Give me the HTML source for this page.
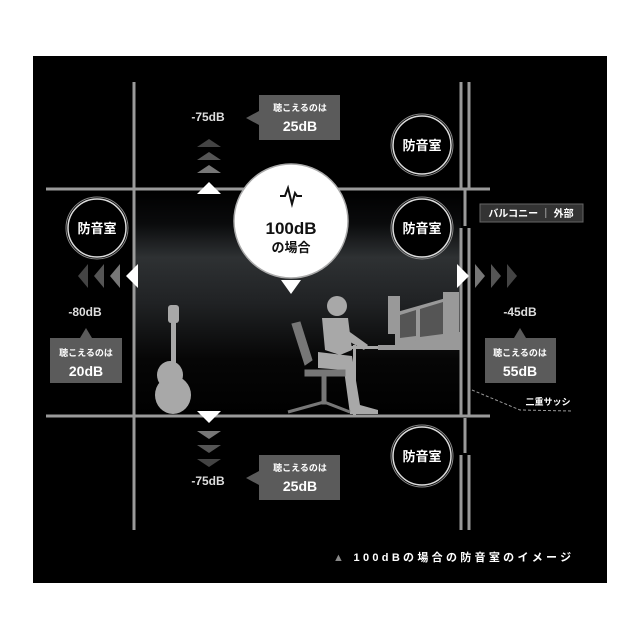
<!DOCTYPE html>
<html><head><meta charset="utf-8"><style>
html,body{margin:0;padding:0;background:#fff;width:640px;height:640px;overflow:hidden}
svg{display:block}
text{font-family:"Liberation Sans","Noto Sans CJK JP",sans-serif;font-weight:bold}
</style></head><body>
<svg width="640" height="640" viewBox="0 0 640 640" xmlns="http://www.w3.org/2000/svg">
<defs>
<linearGradient id="rg" x1="0" y1="0" x2="0" y2="1">
<stop offset="0" stop-color="#000"/>
<stop offset="0.15" stop-color="#0a0b0c"/>
<stop offset="0.3" stop-color="#2e3133"/>
<stop offset="0.5" stop-color="#202224"/>
<stop offset="0.75" stop-color="#060606"/>
<stop offset="1" stop-color="#000"/>
</linearGradient>
</defs>
<rect x="33" y="56" width="574" height="527" fill="#000"/>
<rect x="134" y="190" width="327" height="226" fill="url(#rg)"/>
<g stroke="#9a9a9a" stroke-width="3" fill="none">
<line x1="134" y1="82" x2="134" y2="530"/>
<line x1="46" y1="189" x2="490" y2="189"/>
<line x1="46" y1="416" x2="490" y2="416"/>
<line x1="461" y1="82" x2="461" y2="188"/>
<line x1="469" y1="82" x2="469" y2="188"/>
<line x1="465" y1="190" x2="465" y2="226"/>
<line x1="461" y1="228" x2="461" y2="415"/>
<line x1="469" y1="228" x2="469" y2="415"/>
<line x1="465" y1="418" x2="465" y2="453"/>
<line x1="461" y1="455" x2="461" y2="530"/>
<line x1="469" y1="455" x2="469" y2="530"/>
</g>
<path d="M472 390 L520 410 L572 411" stroke="#999" stroke-width="1" stroke-dasharray="3,2" fill="none"/>
<polygon points="197,147 221,147 209,139" fill="#444"/>
<polygon points="197,160 221,160 209,152" fill="#555"/>
<polygon points="197,173 221,173 209,165" fill="#777"/>
<polygon points="197,194 221,194 209,182" fill="#fff"/>
<polygon points="197,411 221,411 209,423" fill="#fff"/>
<polygon points="197,431 221,431 209,439" fill="#777"/>
<polygon points="197,445 221,445 209,453" fill="#555"/>
<polygon points="197,459 221,459 209,467" fill="#444"/>
<polygon points="138,264 138,288 126,276" fill="#fff"/>
<polygon points="120,264 120,288 110,276" fill="#777"/>
<polygon points="104,264 104,288 94,276" fill="#555"/>
<polygon points="88,264 88,288 78,276" fill="#444"/>
<polygon points="457,264 457,288 469,276" fill="#fff"/>
<polygon points="475,264 475,288 485,276" fill="#777"/>
<polygon points="491,264 491,288 501,276" fill="#555"/>
<polygon points="507,264 507,288 517,276" fill="#444"/>
<g fill="#000" stroke="#ddd" stroke-width="1.5">
<circle cx="97" cy="228" r="29"/><circle cx="422" cy="145" r="29"/><circle cx="422" cy="228" r="29"/><circle cx="422" cy="456" r="29"/>
</g>
<g fill="none" stroke="#888" stroke-width="1">
<circle cx="97" cy="228" r="31"/><circle cx="422" cy="145" r="31"/><circle cx="422" cy="228" r="31"/><circle cx="422" cy="456" r="31"/>
</g>
<g fill="#fff" font-size="13" text-anchor="middle">
<text x="97" y="233">防音室</text><text x="422" y="150">防音室</text><text x="422" y="233">防音室</text><text x="422" y="461">防音室</text>
</g>
<polygon points="281,280 301,280 291,294" fill="#fff"/>
<circle cx="291" cy="221" r="57" fill="#fff" stroke="#aaa" stroke-width="1.5"/>
<circle cx="291" cy="221" r="54" fill="#fff"/>
<path d="M280 196 L285 196 L288 188 L292 204 L295 193 L297 196 L302 196" stroke="#111" stroke-width="2" fill="none"/>
<text x="291" y="234" font-size="17" text-anchor="middle" fill="#111">100dB</text>
<text x="291" y="252" font-size="13" text-anchor="middle" fill="#111">の場合</text>
<g fill="#ddd" font-size="12" text-anchor="middle">
<text x="208" y="121">-75dB</text><text x="85" y="316">-80dB</text><text x="520" y="316">-45dB</text><text x="208" y="485">-75dB</text>
</g>
<g fill="#5b5b5b">
<rect x="259" y="95" width="81" height="45"/><polygon points="259,111 259,125 246,118"/>
<rect x="50" y="338" width="72" height="45"/><polygon points="80,338 92,338 86,328"/>
<rect x="485" y="338" width="71" height="45"/><polygon points="514,338 526,338 520,328"/>
<rect x="259" y="455" width="81" height="45"/><polygon points="259,471 259,485 246,478"/>
</g>
<g fill="#fff" text-anchor="middle">
<text x="300" y="111" font-size="9">聴こえるのは</text><text x="300" y="131" font-size="14">25dB</text>
<text x="86" y="356" font-size="9">聴こえるのは</text><text x="86" y="376" font-size="14">20dB</text>
<text x="520" y="356" font-size="9">聴こえるのは</text><text x="520" y="376" font-size="14">55dB</text>
<text x="300" y="471" font-size="9">聴こえるのは</text><text x="300" y="491" font-size="14">25dB</text>
</g>
<rect x="480" y="204" width="103" height="18" fill="#333" stroke="#666"/>
<text x="531" y="217" font-size="10" fill="#fff" text-anchor="middle">バルコニー ｜ 外部</text>
<text x="548" y="405" font-size="9" fill="#fff" text-anchor="middle">二重サッシ</text>
<g fill="#a8a8a8">
<rect x="171" y="308" width="5" height="60"/>
<rect x="168" y="305" width="11" height="18" rx="3"/>
<ellipse cx="173" cy="395" rx="18" ry="19"/>
<ellipse cx="170" cy="375" rx="13" ry="14"/>
</g>
<g fill="#a8a8a8">
<circle cx="337" cy="306" r="10"/>
<path d="M322 318 L348 318 L352 350 L340 355 L325 350 Z"/>
<path d="M340 325 L368 345 L364 350 L338 335 Z"/>
<path d="M318 352 L352 356 L360 405 L378 410 L378 414 L350 414 L344 370 L318 368 Z"/>
<rect x="353" y="345" width="3" height="70"/>
<rect x="350" y="346" width="50" height="3"/>
</g>
<g fill="#777" stroke="#777">
<path d="M292 324 L300 322 L312 360 L305 365 Z"/>
<rect x="305" y="370" width="40" height="6"/>
<rect x="322" y="376" width="4" height="28"/>
<path d="M288 412 L324 402 L350 412" fill="none" stroke-width="3"/>
</g>
<g fill="#999">
<rect x="378" y="345" width="83" height="5"/>
<rect x="395" y="332" width="66" height="13"/>
<rect x="388" y="296" width="12" height="38"/>
<rect x="443" y="292" width="16" height="42"/>
<polygon points="397,312 418,306 418,340 397,342"/>
<polygon points="418,306 446,298 446,338 418,340"/>
</g>
<g fill="#555"><polygon points="400,315 416,310 416,336 400,338"/><polygon points="420,309 443,302 443,334 420,337"/></g>
<text x="333" y="561" font-size="11" fill="#fff" letter-spacing="3.3"><tspan fill="#888">▲</tspan> 100dBの場合の防音室のイメージ</text>
</svg>
</body></html>
